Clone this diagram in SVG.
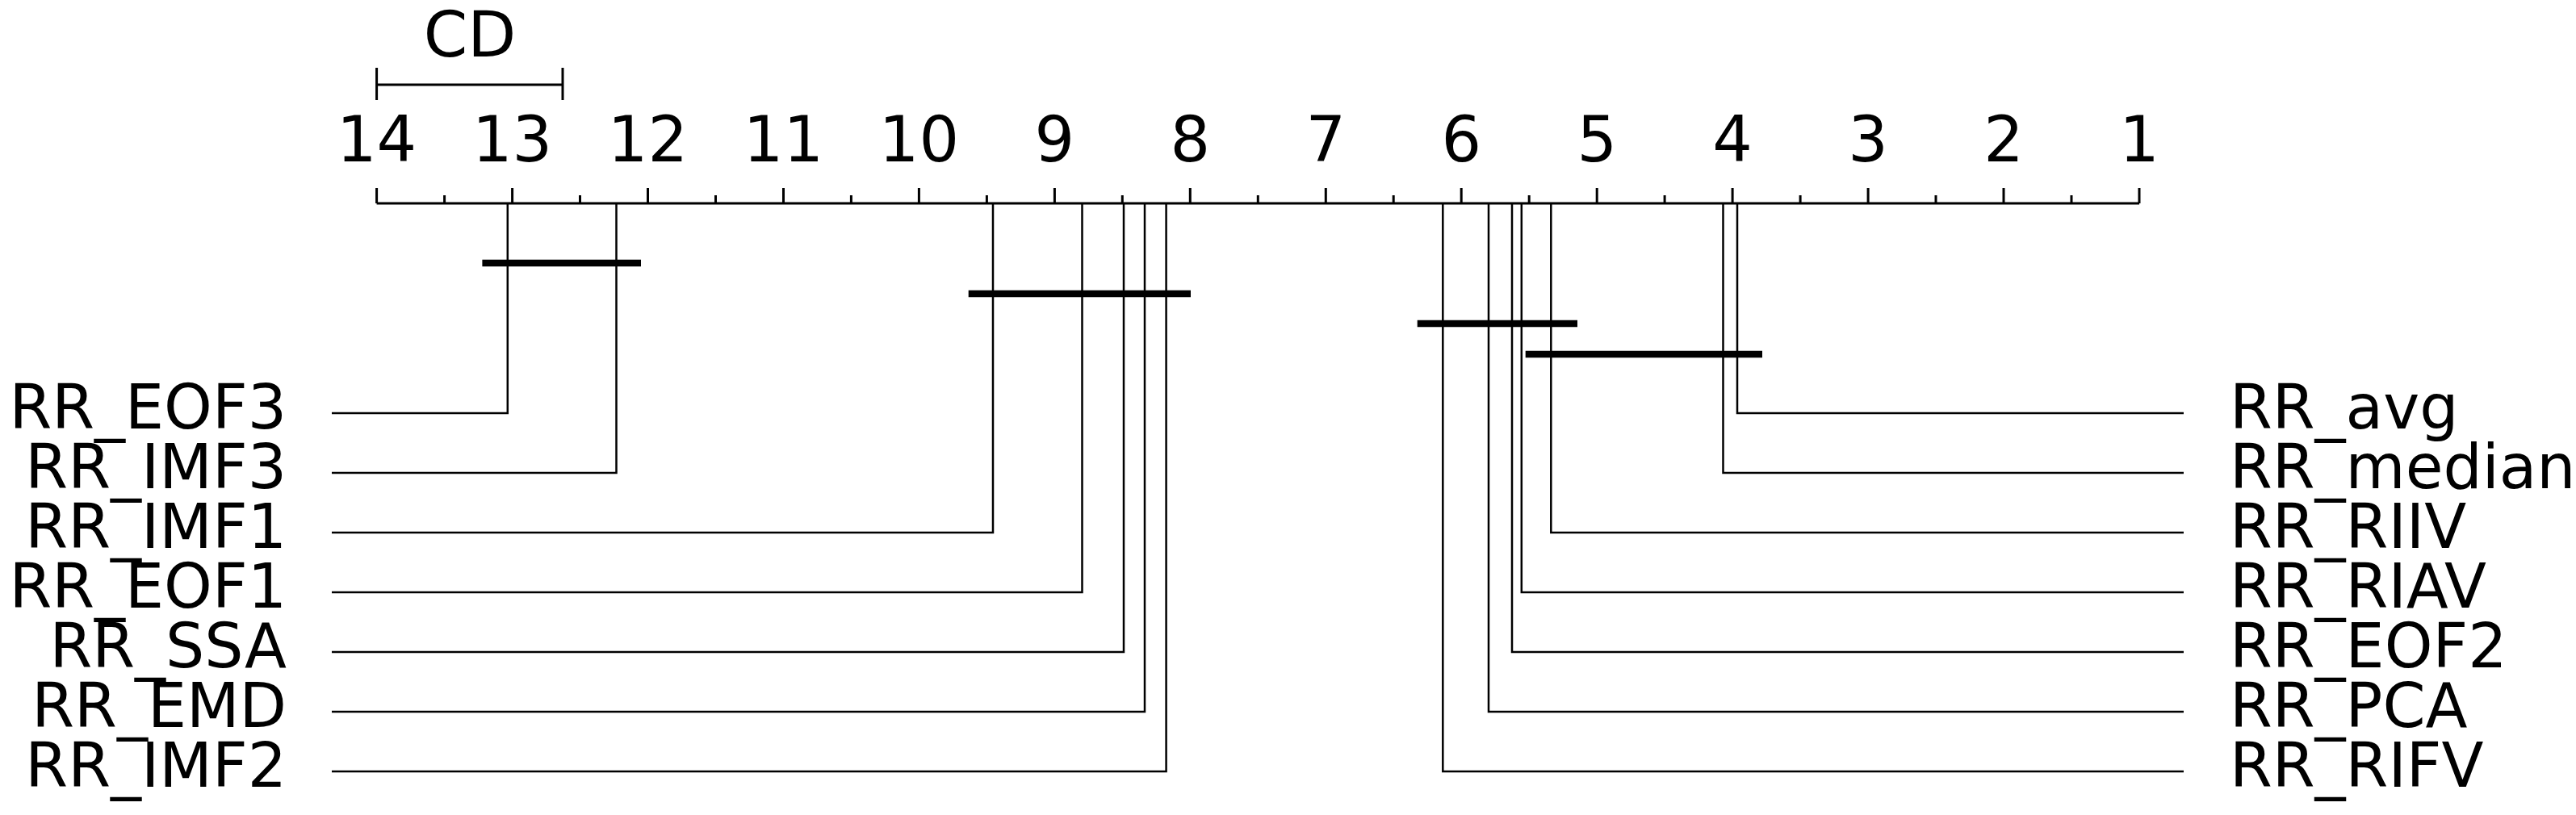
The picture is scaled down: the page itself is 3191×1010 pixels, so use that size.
<svg xmlns="http://www.w3.org/2000/svg" width="3191" height="1010" viewBox="0 0 3191 1010">
<style>
text{font-family:"DejaVu Sans",sans-serif;fill:#000}
.t{font-size:78px;text-anchor:middle}
.l{font-size:76px;text-anchor:end}
.r{font-size:76px;text-anchor:start}
.ax{stroke:#000;stroke-width:3;fill:none}
.c{stroke:#000;stroke-width:2.5;fill:none}
.b{stroke:#000;stroke-width:8.5;fill:none}
</style>
<rect width="3191" height="1010" fill="#fff"/>
<g id="axis">
<path class="ax" d="M466.6,252H2650 M466.6,233V252 M634.6,233V252 M802.5,233V252 M970.5,233V252 M1138.4,233V252 M1306.4,233V252 M1474.3,233V252 M1642.3,233V252 M1810.2,233V252 M1978.2,233V252 M2146.1,233V252 M2314.1,233V252 M2482,233V252 M2650,233V252 M550.6,242V252 M718.5,242V252 M886.5,242V252 M1054.4,242V252 M1222.4,242V252 M1390.3,242V252 M1558.3,242V252 M1726.2,242V252 M1894.2,242V252 M2062.1,242V252 M2230.1,242V252 M2398,242V252 M2566,242V252"/>
<text class="t" x="466.6" y="200">14</text><text class="t" x="634.6" y="200">13</text><text class="t" x="802.5" y="200">12</text><text class="t" x="970.5" y="200">11</text><text class="t" x="1138.4" y="200">10</text><text class="t" x="1306.4" y="200">9</text><text class="t" x="1474.3" y="200">8</text><text class="t" x="1642.3" y="200">7</text><text class="t" x="1810.2" y="200">6</text><text class="t" x="1978.2" y="200">5</text><text class="t" x="2146.1" y="200">4</text><text class="t" x="2314.1" y="200">3</text><text class="t" x="2482" y="200">2</text><text class="t" x="2650" y="200">1</text>
</g>
<g id="cd">
<path class="ax" d="M466.6,105H697 M466.6,84V124 M697,84V124"/>
<text class="t" x="582" y="70">CD</text>
</g>
<g id="connectors">
<path class="c" d="M411,512H628.8V252 M411,586H763.5V252 M411,660H1230V252 M411,734H1340.5V252 M411,808H1392V252 M411,882H1418V252 M411,956H1444.6V252"/>
<path class="c" d="M2705,512H2152V252 M2705,586H2134.5V252 M2705,660H1921.3V252 M2705,734H1884.8V252 M2705,808H1873V252 M2705,882H1844V252 M2705,956H1787.3V252"/>
</g>
<g id="cliques">
<path class="b" d="M597.4,326H794 M1199.7,364H1475 M1755.7,401H1954 M1889.7,439H2183"/>
</g>
<g id="left-labels">
<text class="l" x="355" y="531">RR_EOF3</text>
<text class="l" x="355" y="605">RR_IMF3</text>
<text class="l" x="355" y="679">RR_IMF1</text>
<text class="l" x="355" y="753">RR_EOF1</text>
<text class="l" x="355" y="827">RR_SSA</text>
<text class="l" x="355" y="901">RR_EMD</text>
<text class="l" x="355" y="975">RR_IMF2</text>
</g>
<g id="right-labels">
<text class="r" x="2762" y="531">RR_avg</text>
<text class="r" x="2762" y="605">RR_median</text>
<text class="r" x="2762" y="679">RR_RIIV</text>
<text class="r" x="2762" y="753">RR_RIAV</text>
<text class="r" x="2762" y="827">RR_EOF2</text>
<text class="r" x="2762" y="901">RR_PCA</text>
<text class="r" x="2762" y="975">RR_RIFV</text>
</g>
</svg>
